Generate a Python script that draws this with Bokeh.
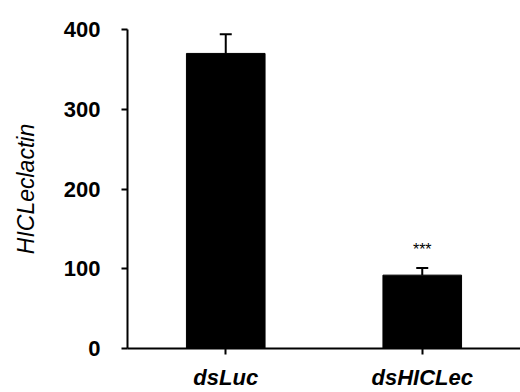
from bokeh.plotting import figure
from bokeh.models import FactorRange, Range1d, FixedTicker, Whisker, ColumnDataSource, TeeHead
from bokeh.core.properties import value
from bokeh.embed import file_html
from bokeh.resources import INLINE

categories = ["dsLuc", "dsHICLec"]
means = [370, 92]
errors = [24, 9]
significance = ["", "***"]
y_ticks = [0, 100, 200, 300, 400]

src = ColumnDataSource(dict(
    x=categories,
    top=means,
    upper=[m + e for m, e in zip(means, errors)],
    sig=significance,
    sig_y=[m + e + 23 for m, e in zip(means, errors)],
))

p = figure(width=520, height=392, output_backend="svg", toolbar_location=None,
           x_range=FactorRange(factors=categories, range_padding=0),
           y_range=Range1d(0, 400),
           min_border_left=127, min_border_right=0, min_border_top=29, min_border_bottom=44)
p.outline_line_color = None
p.xgrid.grid_line_color = None
p.ygrid.grid_line_color = None
p.background_fill_color = "white"

p.vbar(x="x", top="top", width=0.4, bottom=0, source=src, fill_color="black", line_color="black")

w = Whisker(base="x", lower="top", upper="upper", source=src, line_color="black", line_width=2,
            lower_head=None, upper_head=TeeHead(size=12, line_color="black", line_width=2))
p.add_layout(w)

p.text(x="x", y="sig_y", text="sig", source=src, text_align="center", text_baseline="middle",
       text_font=value("Liberation Sans"), text_font_size="16px", text_color="black")

p.yaxis.ticker = FixedTicker(ticks=y_ticks)
p.yaxis.axis_label = "HICLeclactin"
p.yaxis.axis_label_text_font = "Liberation Sans"
p.yaxis.axis_label_text_font_style = "italic"
p.yaxis.axis_label_text_font_size = "23px"
p.yaxis.axis_label_text_color = "black"
p.yaxis.axis_label_standoff = 22
p.yaxis.major_label_text_font = "Liberation Sans"
p.yaxis.major_label_text_font_style = "bold"
p.yaxis.major_label_text_font_size = "22px"
p.yaxis.major_label_text_color = "black"
p.yaxis.major_label_standoff = 21
p.yaxis.minor_tick_line_color = None
p.yaxis.major_tick_in = 0
p.yaxis.major_tick_out = 6
p.yaxis.axis_line_width = 2
p.yaxis.major_tick_line_width = 2

p.xaxis.major_label_text_font = "Liberation Sans"
p.xaxis.major_label_text_font_style = "bold italic"
p.xaxis.major_label_text_font_size = "22px"
p.xaxis.major_label_text_color = "black"
p.xaxis.major_label_standoff = 10
p.xaxis.major_tick_in = 0
p.xaxis.major_tick_out = 6
p.xaxis.axis_line_width = 2
p.xaxis.major_tick_line_width = 2

open("out.html", "w").write(file_html(p, INLINE))
